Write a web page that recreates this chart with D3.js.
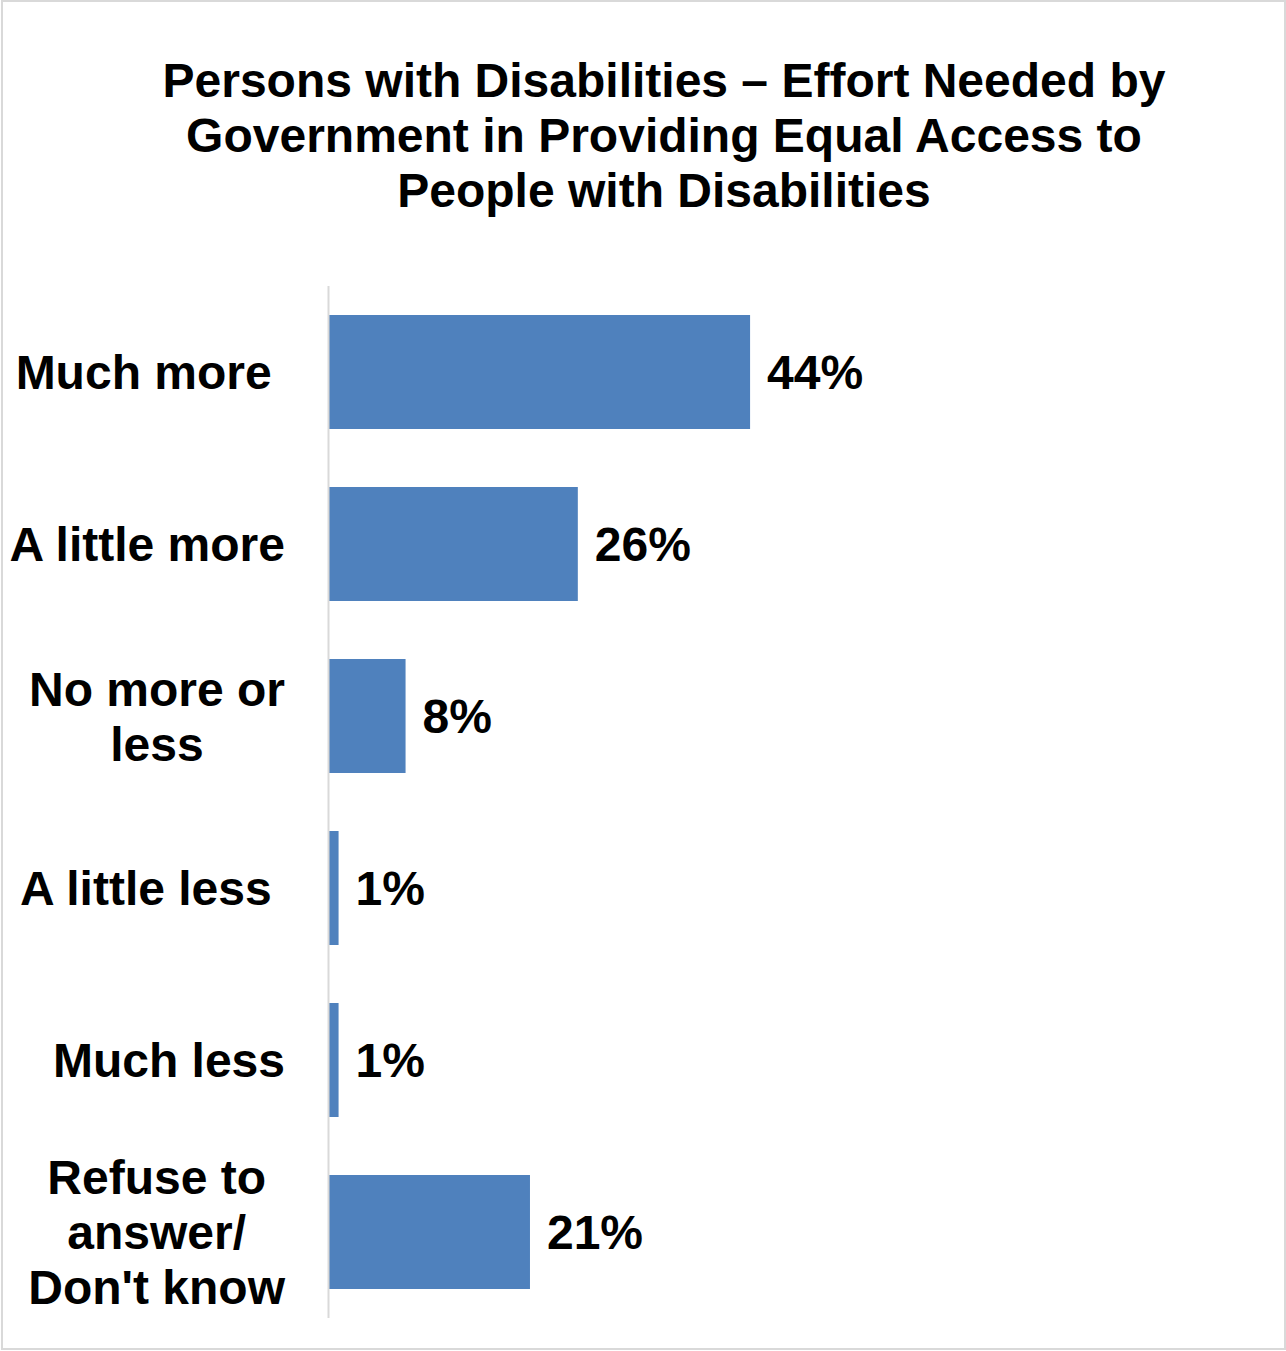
<!DOCTYPE html>
<html>
<head>
<meta charset="utf-8">
<script src="https://cdn.jsdelivr.net/npm/d3@7"></script>
<style>
  html, body { margin: 0; padding: 0; background: #fff; }
  svg { display: block; }
  text { font-family: "Liberation Sans", Arial, sans-serif; font-weight: bold; fill: #000; }
</style>
</head>
<body>
<svg id="chart" width="1286" height="1351"></svg>
<script>
// Data
const titleLines = [
  "Persons with Disabilities \u2013 Effort Needed by",
  "Government in Providing Equal Access to",
  "People with Disabilities"
];
const categories = [
  ["Much more "],
  ["A little more"],
  ["No more or", "less"],
  ["A little less "],
  ["Much less"],
  ["Refuse to", "answer/", "Don't know"]
];
const values = [44, 26, 8, 1, 1, 21];
const valueLabels = ["44%", "26%", "8%", "1%", "1%", "21%"];

const W = 1286, H = 1351;
const fontSize = 48;
const lineH = 55;
const svg = d3.select("#chart");

// Border
svg.append("rect")
  .attr("x", 2).attr("y", 1).attr("width", W - 3).attr("height", H - 3)
  .attr("fill", "#fff").attr("stroke", "#d9d9d9").attr("stroke-width", 2);

// Title
svg.append("text")
  .attr("text-anchor", "middle")
  .attr("font-size", fontSize)
  .selectAll("tspan").data(titleLines).join("tspan")
  .attr("x", 664)
  .attr("y", (d, i) => 97 + i * lineH)
  .text(d => d);

// Scales
const idx = d3.range(categories.length);
const y = d3.scaleBand().domain(idx).range([286, 1318])
  .paddingInner(58 / 172).paddingOuter(29 / 172);
const x = d3.scaleLinear().domain([0, 50]).range([329, 807.5]);

// Bars
svg.append("g").selectAll("rect").data(values).join("rect")
  .attr("x", x(0))
  .attr("y", (d, i) => y(i))
  .attr("width", d => x(d) - x(0))
  .attr("height", y.bandwidth())
  .attr("fill", "#4f81bd");

// Axis line
svg.append("line")
  .attr("x1", 328.5).attr("x2", 328.5)
  .attr("y1", y.range()[0]).attr("y2", y.range()[1])
  .attr("stroke", "#d9d9d9").attr("stroke-width", 2);

// Value labels
svg.append("g").selectAll("text").data(values).join("text")
  .attr("x", d => x(d) + 17)
  .attr("y", (d, i) => y(i) + y.bandwidth() / 2 + fontSize * 0.358)
  .attr("font-size", fontSize)
  .text((d, i) => valueLabels[i]);

// Category labels: block right-aligned at 285, lines centered within block
const labelRight = 285;
categories.forEach((lines, i) => {
  const g = svg.append("g");
  const cy = y(i) + y.bandwidth() / 2;
  const n = lines.length;
  const texts = lines.map((ln, j) => g.append("text")
    .attr("font-size", fontSize)
    .attr("text-anchor", "middle")
    .style("white-space", "pre")
    .attr("y", cy + (j - (n - 1) / 2) * lineH + fontSize * 0.358)
    .text(ln));
  const maxW = d3.max(texts, t => t.node().getComputedTextLength());
  texts.forEach(t => t.attr("x", labelRight - maxW / 2));
});
</script>
</body>
</html>
